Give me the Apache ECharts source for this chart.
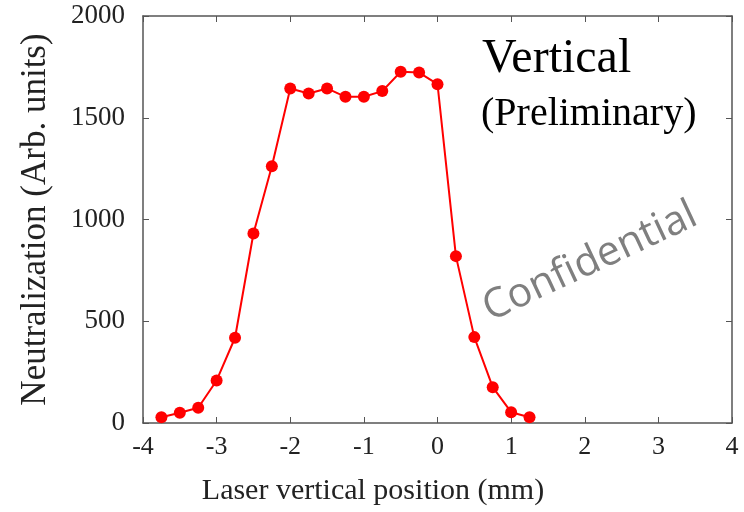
<!DOCTYPE html>
<html>
<head>
<meta charset="utf-8">
<script src="https://cdn.jsdelivr.net/npm/echarts@6/dist/echarts.min.js"></script>
<style>
  html, body { margin: 0; padding: 0; background: #fff; }
  #main { width: 744px; height: 512px; }
</style>
</head>
<body>
<div id="main"></div>
<script>
// laser position (mm) and neutralization signal
var positions = [-3.75, -3.5, -3.25, -3.0, -2.75, -2.5, -2.25, -2.0, -1.75, -1.5, -1.25,
  -1.0, -0.75, -0.5, -0.25, 0.0, 0.25, 0.5, 0.75, 1.0, 1.25];
var neutralization = [28, 50, 75, 209, 419, 931, 1262, 1644, 1619, 1644, 1603,
  1603, 1631, 1726, 1722, 1665, 820, 422, 176, 53, 28];
var xTicks = [-4, -3, -2, -1, 0, 1, 2, 3, 4];
var yTicks = [0, 500, 1000, 1500, 2000];

var serif = '"Liberation Serif", "DejaVu Serif", serif';
var axisColor = '#555';

var chart = echarts.init(document.getElementById('main'));

var points = positions.map(function (x, i) { return [x, neutralization[i]]; });

var baseX = {
  type: 'value',
  min: xTicks[0],
  max: xTicks[xTicks.length - 1],
  interval: 1,
  splitLine: { show: false },
  axisLine: { show: true, onZero: false, lineStyle: { color: axisColor, width: 1.5 } },
  axisTick: { show: true, inside: true, length: 6, lineStyle: { color: axisColor } }
};
var baseY = {
  type: 'value',
  min: yTicks[0],
  max: yTicks[yTicks.length - 1],
  interval: 500,
  splitLine: { show: false },
  axisLine: { show: true, onZero: false, lineStyle: { color: axisColor, width: 1.5 } },
  axisTick: { show: true, inside: true, length: 6, lineStyle: { color: axisColor } }
};

var option = {
  backgroundColor: '#fff',
  animation: false,
  grid: { left: 143, right: 12, top: 16, bottom: 89 },
  xAxis: [
    Object.assign({}, baseX, {
      position: 'bottom',
      axisLabel: { fontFamily: serif, fontSize: 26, color: '#222', margin: 11 }
    }),
    Object.assign({}, baseX, { position: 'top', axisLabel: { show: false } })
  ],
  yAxis: [
    Object.assign({}, baseY, {
      position: 'left',
      name: 'Neutralization (Arb. units)',
      nameLocation: 'middle',
      nameRotate: 90,
      nameGap: 90,
      nameTextStyle: { fontFamily: serif, fontSize: 35, color: '#222' },
      axisLabel: {
        fontFamily: serif, fontSize: 27, color: '#222', margin: 18,
        formatter: function (v) { return String(v); }
      }
    }),
    Object.assign({}, baseY, { position: 'right', axisLabel: { show: false } })
  ],
  graphic: [
    {
      type: 'text', position: [373, 491],
      style: { text: 'Laser vertical position (mm)', font: '30px ' + serif, fill: '#222',
        align: 'center', verticalAlign: 'middle' }
    },
    {
      type: 'text', position: [482, 59],
      style: { text: 'Vertical', font: '48px ' + serif, fill: '#000', align: 'left', verticalAlign: 'middle' }
    },
    {
      type: 'text', position: [481, 114],
      style: { text: '(Preliminary)', font: '40px ' + serif, fill: '#000', align: 'left', verticalAlign: 'middle' }
    },
    {
      type: 'text', position: [590, 262], rotation: 25 * Math.PI / 180,
      style: { text: 'Confidential', font: '41px "Open Sans", sans-serif', fill: '#7f7f7f',
        align: 'center', verticalAlign: 'middle' }
    }
  ],
  series: [
    {
      type: 'line',
      data: points,
      symbol: 'circle',
      symbolSize: 12,
      itemStyle: { color: '#ff0000' },
      lineStyle: { color: '#ff0000', width: 2 }
    }
  ]
};

chart.setOption(option);
</script>
</body>
</html>
